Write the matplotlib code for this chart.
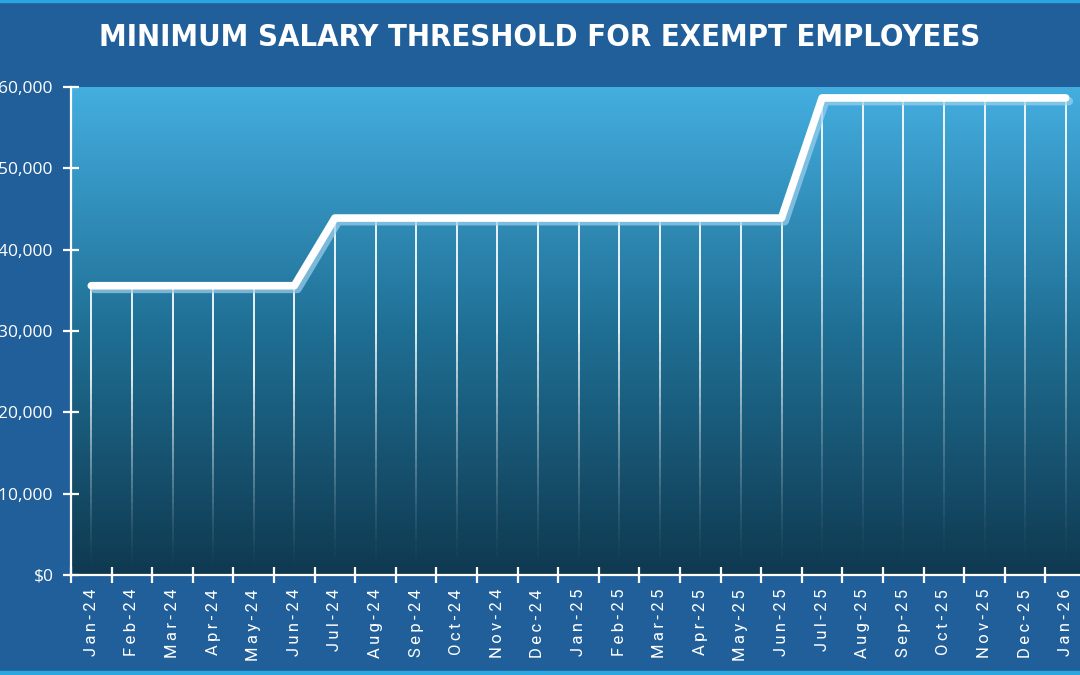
import numpy as np
import matplotlib.pyplot as plt
from matplotlib.colors import LinearSegmentedColormap
from matplotlib.ticker import FuncFormatter

# data
months = ["Jan-24", "Feb-24", "Mar-24", "Apr-24", "May-24", "Jun-24",
          "Jul-24", "Aug-24", "Sep-24", "Oct-24", "Nov-24", "Dec-24",
          "Jan-25", "Feb-25", "Mar-25", "Apr-25", "May-25", "Jun-25",
          "Jul-25", "Aug-25", "Sep-25", "Oct-25", "Nov-25", "Dec-25",
          "Jan-26"]
salary = [35568] * 6 + [43888] * 12 + [58656] * 7
yticks = [0, 10000, 20000, 30000, 40000, 50000, 60000]
title = "MINIMUM SALARY THRESHOLD FOR EXEMPT EMPLOYEES"

bg = "#215f9a"
fig = plt.figure(figsize=(10.8, 6.75), dpi=100, facecolor=bg)

# axes spans past the right edge, like the original crop
ax = fig.add_axes([71 / 1080, 1 - 575 / 675, 1015 / 1080, (575 - 87) / 675])
ax.set_facecolor(bg)
x = np.arange(len(months))
ax.set_xlim(-0.5, len(months) - 0.5)
ax.set_ylim(0, 60000)

# gradient plot area
cmap = LinearSegmentedColormap.from_list("bg", ["#0f3950", "#1f6f94", "#44aee0"])
grad = np.linspace(0, 1, 256).reshape(-1, 1)
ax.imshow(grad, cmap=cmap, aspect="auto", origin="lower",
          extent=(-0.5, len(months) - 0.5, 0, 60000), zorder=0)

# drop lines fading to the bottom
for xi, yi in zip(x, salary):
    n = 40
    ys = np.linspace(0, yi, n + 1)
    for k in range(n):
        a = min(1.0, (k / n) ** 1.5 * 1.8)
        ax.plot([xi, xi], [ys[k], ys[k + 1]], color="white", lw=1.4,
                alpha=a * 0.9, solid_capstyle="butt", zorder=2)

# shadow + main line
ax.plot(x + 0.08, np.array(salary) - 400, color="#9fd0ee", lw=6, alpha=0.7,
        solid_capstyle="round", solid_joinstyle="round", zorder=3)
ax.plot(x, salary, color="white", lw=5.5, solid_capstyle="round",
        solid_joinstyle="round", zorder=4)

for s in ["top", "right"]:
    ax.spines[s].set_visible(False)
for s in ["left", "bottom"]:
    ax.spines[s].set_color("white")
    ax.spines[s].set_linewidth(1.6)
    ax.spines[s].set_zorder(5)

ax.set_yticks(yticks)
ax.yaxis.set_major_formatter(FuncFormatter(lambda v, p: f"${v:,.0f}"))
ax.set_xticks(x - 0.5, minor=False)
ax.set_xticks(x, minor=True)
ax.set_xticklabels([])
# spaced-out month labels
spaced = ["\u2009".join(m) for m in months]
ax.set_xticklabels(spaced, minor=True, rotation=90, fontsize=12,
                   color="white", family=["Roboto", "DejaVu Sans"])
ax.tick_params(axis="x", which="major", direction="inout", length=11,
               width=1.6, color="white")
ax.tick_params(axis="x", which="minor", length=0, pad=10)
ax.tick_params(axis="y", direction="inout", length=11, width=1.6,
               color="white", labelcolor="white", labelsize=12.5, pad=7)
for lab in ax.get_yticklabels():
    lab.set_family("Open Sans")

fig.text(0.5, 1 - 38 / 675, title, ha="center", va="center", color="white",
         fontsize=22.2, fontweight="bold", family="DejaVu Sans",
         fontstretch="condensed")

# thin cyan edge lines at top and bottom
fig.add_artist(plt.Rectangle((0, 1 - 2 / 675), 1, 2 / 675,
                             transform=fig.transFigure, color="#2aa7de"))
fig.add_artist(plt.Rectangle((0, 0), 1, 4 / 675,
                             transform=fig.transFigure, color="#2aa7de"))

fig.savefig("out.png", dpi=100, facecolor=bg)
